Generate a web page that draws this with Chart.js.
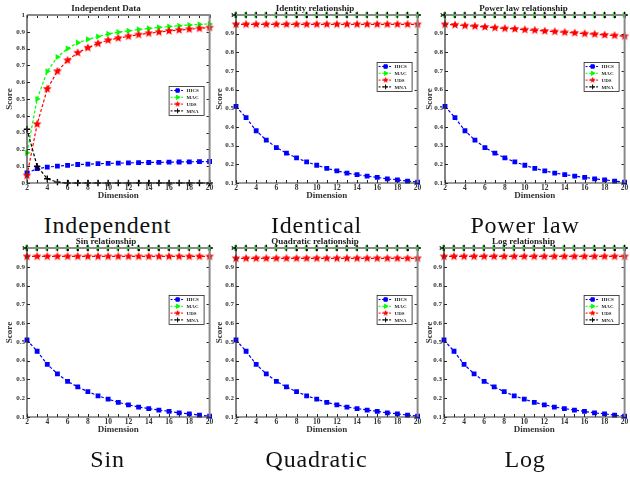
<!DOCTYPE html>
<html>
<head>
<meta charset="utf-8">
<script src="https://cdn.jsdelivr.net/npm/chart.js@4/dist/chart.umd.min.js"></script>
<style>
  body { margin: 0; background: #fff; width: 630px; height: 478px; position: relative; overflow: hidden; }
  .panel { position: absolute; }
  .cap { position: absolute; width: 200px; text-align: center; font-family: "Liberation Serif", serif; font-size: 24px; line-height: 28px; letter-spacing: 0.8px; color: #111; }
</style>
</head>
<body>
<script>
// x values (dimension) shared by every panel
const dims = [2, 3, 4, 5, 6, 7, 8, 9, 10, 11, 12, 13, 14, 15, 16, 17, 18, 19, 20];
const seriesNames = ['HICS', 'MAC', 'UDS', 'MNA'];

// Independent data
const indHICS = [0.06, 0.085, 0.095, 0.1, 0.105, 0.11, 0.112, 0.115, 0.117, 0.118, 0.12, 0.121, 0.122, 0.123, 0.124, 0.125, 0.126, 0.127, 0.128];
const indMAC = [0.18, 0.5, 0.665, 0.75, 0.8, 0.835, 0.855, 0.872, 0.887, 0.898, 0.906, 0.914, 0.92, 0.926, 0.931, 0.936, 0.94, 0.944, 0.947];
const indUDS = [0.045, 0.35, 0.56, 0.665, 0.73, 0.775, 0.805, 0.83, 0.85, 0.862, 0.873, 0.883, 0.891, 0.898, 0.905, 0.91, 0.915, 0.92, 0.925];
const indMNA = [0.32, 0.1, 0.025, 0.005, 0, 0, 0, 0, 0, 0, 0, 0, 0, 0, 0, 0, 0, 0, 0];

// relationship panels (HICS curve is the same on all of them)
const relHICS = [0.51, 0.45, 0.38, 0.33, 0.29, 0.26, 0.235, 0.213, 0.195, 0.178, 0.165, 0.153, 0.145, 0.137, 0.13, 0.122, 0.117, 0.11, 0.105];
const relMAC = [1, 1, 1, 1, 1, 1, 1, 1, 1, 1, 1, 1, 1, 1, 1, 1, 1, 1, 1];
const relMNA = [1, 1, 1, 1, 1, 1, 1, 1, 1, 1, 1, 1, 1, 1, 1, 1, 1, 1, 1];
const identUDS = [0.95, 0.95, 0.95, 0.95, 0.95, 0.95, 0.95, 0.95, 0.95, 0.95, 0.95, 0.95, 0.95, 0.95, 0.95, 0.95, 0.95, 0.95, 0.95];
const powerUDS = [0.95, 0.947, 0.943, 0.94, 0.936, 0.932, 0.928, 0.925, 0.921, 0.918, 0.914, 0.911, 0.907, 0.904, 0.9, 0.897, 0.893, 0.89, 0.886];
const sinUDS = [0.955, 0.955, 0.955, 0.955, 0.955, 0.955, 0.955, 0.955, 0.955, 0.955, 0.955, 0.955, 0.955, 0.955, 0.955, 0.955, 0.955, 0.955, 0.955];
const quadUDS = [0.945, 0.945, 0.945, 0.945, 0.945, 0.945, 0.945, 0.945, 0.945, 0.945, 0.945, 0.945, 0.945, 0.945, 0.945, 0.945, 0.945, 0.945, 0.945];
const logUDS = [0.955, 0.955, 0.955, 0.955, 0.955, 0.955, 0.955, 0.955, 0.955, 0.955, 0.955, 0.955, 0.955, 0.955, 0.955, 0.955, 0.955, 0.955, 0.955];

const SERIF = '"Liberation Serif", "Times New Roman", serif';

const panels = [
  { title: 'Independent Data', caption: 'Independent', left: 0, top: 0, w: 215, h: 203, yw: 27, ymin: 0, lgTop: 0.42, series: [indHICS, indMAC, indUDS, indMNA] },
  { title: 'Identity relationship', caption: 'Identical', left: 210, top: 0, w: 213, h: 203, yw: 26, ymin: 0.1, lgTop: 0.28, series: [relHICS, relMAC, identUDS, relMNA] },
  { title: 'Power law relationship', caption: 'Power law', left: 420, top: 0, w: 210, h: 203, yw: 25, ymin: 0.1, lgTop: 0.28, series: [relHICS, relMAC, powerUDS, relMNA] },
  { title: 'Sin relationship', caption: 'Sin', left: 0, top: 233, w: 215, h: 204, yw: 27, ymin: 0.1, lgTop: 0.28, series: [relHICS, relMAC, sinUDS, relMNA] },
  { title: 'Quadratic relationship', caption: 'Quadratic', left: 210, top: 233, w: 213, h: 204, yw: 26, ymin: 0.1, lgTop: 0.28, series: [relHICS, relMAC, quadUDS, relMNA] },
  { title: 'Log relationship', caption: 'Log', left: 420, top: 233, w: 210, h: 204, yw: 24, ymin: 0.1, lgTop: 0.28, series: [relHICS, relMAC, logUDS, relMNA] }
];

// filled 5 point star as a point image
function makeStar(r, color) {
  const c = document.createElement('canvas');
  c.width = c.height = Math.ceil(r * 2 + 2);
  const g = c.getContext('2d');
  const cx = c.width / 2, cy = c.height / 2;
  g.beginPath();
  for (let i = 0; i < 10; i++) {
    const rad = i % 2 ? r * 0.45 : r;
    const a = -Math.PI / 2 + i * Math.PI / 5;
    g.lineTo(cx + rad * Math.cos(a), cy + rad * Math.sin(a));
  }
  g.closePath();
  g.fillStyle = color;
  g.fill();
  return c;
}
const starBig = makeStar(4.6, '#ff0000');
const starSmall = makeStar(3.2, '#ff0000');

const styles = [
  { color: '#0000ff', pointStyle: 'rect', radius: 3.4, rot: 0, lgStyle: 'rect' },
  { color: '#00ff00', pointStyle: 'triangle', radius: 3.6, rot: 90, lgStyle: 'triangle' },
  { color: '#ff0000', pointStyle: starBig, radius: 4.6, rot: 0, lgStyle: starSmall },
  { color: '#000000', pointStyle: 'cross', radius: 3.2, rot: 0, lgStyle: 'cross' }
];

// box frame + inward ticks like the matlab axes
const frame = {
  id: 'frame',
  afterDraw(chart, args, o) {
    const { ctx, chartArea: a, scales: { x, y } } = chart;
    ctx.save();
    ctx.lineWidth = 1;
    ctx.strokeStyle = '#222';
    ctx.beginPath();
    dims.forEach(v => {
      const px = Math.round(x.getPixelForValue(v)) + 0.5;
      ctx.moveTo(px, a.bottom); ctx.lineTo(px, a.bottom - 3);
      ctx.moveTo(px, a.top); ctx.lineTo(px, a.top + 3);
    });
    for (let v = o.ymin; v <= 1.0001; v += 0.1) {
      const py = Math.round(y.getPixelForValue(v)) + 0.5;
      ctx.moveTo(a.left, py); ctx.lineTo(a.left + 3, py);
      ctx.moveTo(a.right, py); ctx.lineTo(a.right - 3, py);
    }
    ctx.stroke();
    ctx.strokeStyle = '#8a8a8a';
    ctx.lineWidth = 2;
    ctx.beginPath();
    ctx.moveTo(a.left, a.top); ctx.lineTo(a.right, a.top); ctx.lineTo(a.right, a.bottom);
    ctx.stroke();
    ctx.strokeStyle = '#333';
    ctx.lineWidth = 1.2;
    ctx.beginPath();
    ctx.moveTo(a.left, a.top); ctx.lineTo(a.left, a.bottom); ctx.lineTo(a.right, a.bottom);
    ctx.stroke();
    ctx.restore();
  }
};

// small legend box inside the plot area
const boxLegend = {
  id: 'boxLegend',
  afterDraw(chart, args, o) {
    const { ctx, chartArea: a } = chart;
    const w = 35, h = 29;
    const x = a.right - 6 - w, y = Math.round(a.top + (a.bottom - a.top) * o.top);
    ctx.save();
    ctx.fillStyle = '#fff';
    ctx.fillRect(x, y, w, h);
    ctx.strokeStyle = '#222';
    ctx.lineWidth = 0.8;
    ctx.strokeRect(x + 0.5, y + 0.5, w, h);
    chart.data.datasets.forEach((ds, i) => {
      const st = styles[i];
      const ry = y + 4.5 + i * 6.8;
      ctx.setLineDash([2, 1.5]);
      ctx.strokeStyle = st.color;
      ctx.lineWidth = 1;
      ctx.beginPath();
      ctx.moveTo(x + 2, ry); ctx.lineTo(x + 16, ry);
      ctx.stroke();
      ctx.setLineDash([]);
      ctx.fillStyle = st.color;
      ctx.strokeStyle = st.color;
      Chart.helpers.drawPoint(ctx, { pointStyle: st.lgStyle, radius: 2.4, rotation: st.rot, borderWidth: 1.2 }, x + 9, ry);
      ctx.fillStyle = '#222';
      ctx.font = 'bold 5px ' + SERIF;
      ctx.textBaseline = 'middle';
      ctx.fillText(ds.label, x + 18, ry + 0.5);
    });
    ctx.restore();
  }
};

panels.forEach(p => {
  const canvas = document.createElement('canvas');
  canvas.className = 'panel';
  canvas.width = p.w; canvas.height = p.h;
  canvas.style.left = p.left + 'px'; canvas.style.top = p.top + 'px';
  document.body.appendChild(canvas);

  const datasets = p.series.map((vals, i) => ({
    label: seriesNames[i],
    data: dims.map((d, k) => ({ x: d, y: vals[k] })),
    borderColor: styles[i].color,
    backgroundColor: styles[i].color,
    pointBackgroundColor: styles[i].color,
    pointBorderColor: styles[i].color,
    pointStyle: styles[i].pointStyle,
    pointRadius: styles[i].radius,
    pointRotation: styles[i].rot,
    pointBorderWidth: i === 3 ? 1.4 : 0,
    borderWidth: 1.2,
    borderDash: [3, 2],
    tension: 0,
    clip: 8,
    order: 4 - i
  }));

  new Chart(canvas.getContext('2d'), {
    type: 'line',
    data: { datasets },
    plugins: [frame, boxLegend],
    options: {
      responsive: false,
      animation: false,
      layout: { padding: { left: 0, right: 3, top: 0, bottom: 0 } },
      plugins: {
        legend: { display: false },
        tooltip: { enabled: false },
        title: { display: true, text: p.title, color: '#222', font: { family: SERIF, size: 9, weight: 'bold' }, padding: { top: 3, bottom: 1.2 } },
        frame: { ymin: p.ymin },
        boxLegend: { top: p.lgTop }
      },
      scales: {
        x: {
          type: 'linear', min: 2, max: 20,
          afterFit: s => { s.height = 20; },
          grid: { display: false, drawTicks: false },
          border: { display: false },
          ticks: { stepSize: 2, autoSkip: false, maxRotation: 0, padding: 1, color: '#333', font: { family: SERIF, size: 7.5, weight: 'bold' } },
          title: { display: true, text: 'Dimension', color: '#333', padding: { top: 0, bottom: 2 }, font: { family: SERIF, size: 9, weight: 'bold' } }
        },
        y: {
          min: p.ymin, max: 1,
          afterFit: s => { s.width = p.yw; },
          grid: { display: false, drawTicks: false },
          border: { display: false },
          ticks: { stepSize: 0.1, padding: 2, color: '#333', callback: v => String(+v.toFixed(1)), font: { family: SERIF, size: 7, weight: 'bold' } },
          title: { display: true, text: 'Score', color: '#333', padding: { top: 4, bottom: 2 }, font: { family: SERIF, size: 9, weight: 'bold' } }
        }
      }
    }
  });

  // caption under each panel, centred on the whole panel
  const cap = document.createElement('div');
  cap.className = 'cap';
  cap.textContent = p.caption;
  cap.style.left = (p.left + p.w / 2 - 100) + 'px';
  cap.style.top = (p.top + p.h + 8) + 'px';
  document.body.appendChild(cap);
});
</script>
</body>
</html>
